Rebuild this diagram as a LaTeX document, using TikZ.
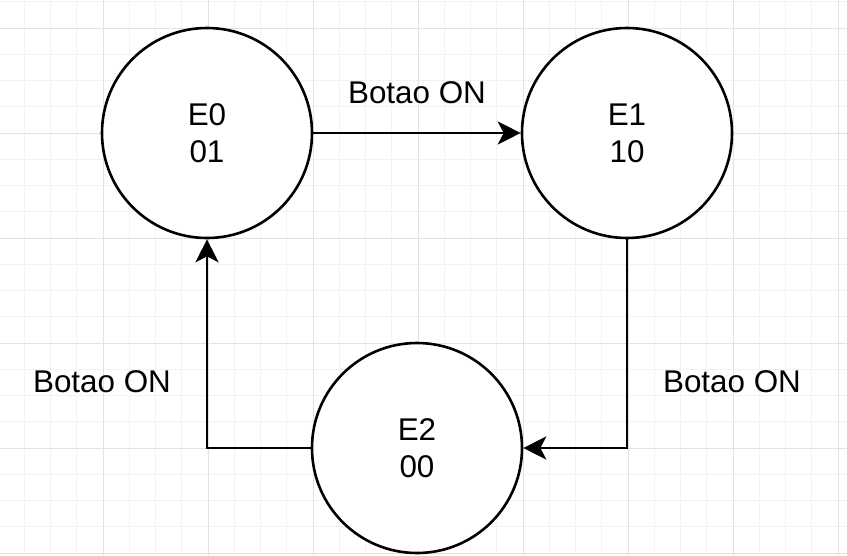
\documentclass[tikz,border=0pt]{standalone}
\usepackage{fontspec}
\setmainfont{Liberation Sans}
\usepackage{tikz}
\usetikzlibrary{arrows.meta}
\definecolor{GridMinor}{HTML}{F2F2F2}
\definecolor{GridMajor}{HTML}{E2E2E2}
\tikzset{
    estado/.style={circle, draw=black, line width=2.6pt, fill=white, minimum size=210pt, inner sep=0pt, align=center, font=\fontsize{31.4}{37}\selectfont},
    transicao/.style={-{Stealth[length=23pt, width=23pt, inset=6pt]}, line width=2.6pt},
    rotulo/.style={font=\fontsize{31.4}{37}\selectfont}
}
\begin{document}
\begin{tikzpicture}[x=1pt, y=-1pt]
        \useasboundingbox (0,0) rectangle (847,555);
        % grelha de fundo
        \foreach \i in {0,...,33}
            \draw[GridMinor, line width=1pt] ({-2+26.25*\i},0) -- ({-2+26.25*\i},555);
        \foreach \i in {0,...,21}
            \draw[GridMinor, line width=1pt] (0,{1.75+26.25*\i}) -- (847,{1.75+26.25*\i});
        \foreach \i in {0,...,8}
            \draw[GridMajor, line width=1pt] ({-2+105*\i},0) -- ({-2+105*\i},555);
        \foreach \i in {0,...,5}
            \draw[GridMajor, line width=1pt] (0,{28+105*\i}) -- (847,{28+105*\i});

        \node[estado] (e0) at (207,133) {E0\\01};
        \node[estado] (e1) at (627,133) {E1\\10};
        \node[estado] (e2) at (417,448) {E2\\00};

        \draw[transicao] (e0.east) -- (e1.west);
        \draw[transicao] (e1.south) |- (e2.east);
        \draw[transicao] (e2.west) -| (e0.south);

        \node[rotulo] (r01) at (417,93) {Botao ON};
        \node[rotulo] (r12) at (732,382) {Botao ON};
        \node[rotulo] (r20) at (102,382) {Botao ON};
    \end{tikzpicture}
\end{document}
